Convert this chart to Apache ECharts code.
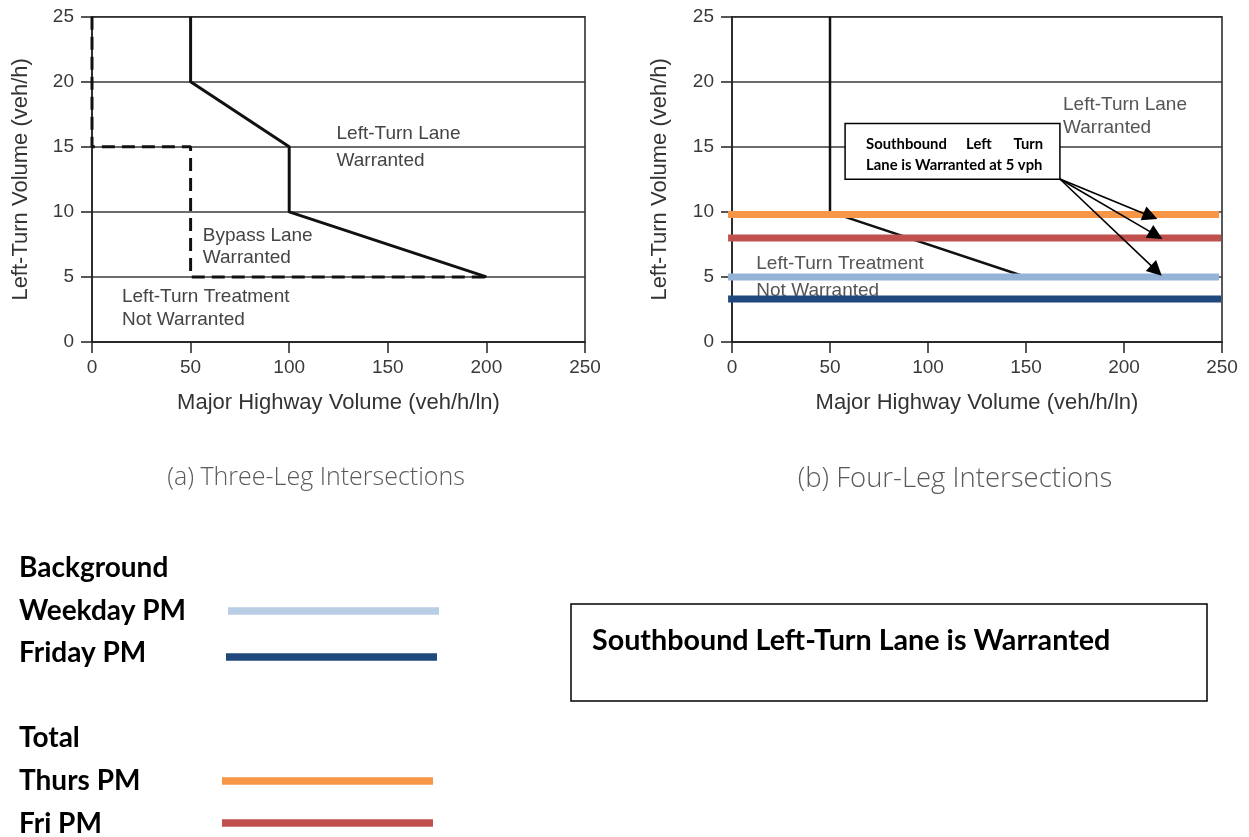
<!DOCTYPE html>
<html><head><meta charset="utf-8">
<script src="https://cdn.jsdelivr.net/npm/echarts@6/dist/echarts.min.js"></script>
<style>html,body{margin:0;padding:0;background:#fff}#c{width:1249px;height:837px}</style>
</head><body><div id="c"></div>
<script>
// ---------- data ----------
const xTickValues = [0, 50, 100, 150, 200, 250];
const yTickValues = [0, 5, 10, 15, 20, 25];
// Three-leg intersections: left-turn lane warrant boundary (solid) and bypass lane boundary (dashed)
const threeLegLaneBoundary = [[50, 25], [50, 20], [100, 15], [100, 10], [200, 5]];
const threeLegBypassBoundary = [[0, 25], [0, 15], [50, 15], [50, 5], [200, 5]];
// Four-leg intersections: left-turn lane warrant boundary
const fourLegLaneBoundary = [[50, 25], [50, 10], [150, 5]];
// Left-turn volumes (veh/h) plotted as horizontal lines
const volumeNames = ['Thurs PM', 'Fri PM', 'Weekday PM', 'Friday PM'];
const volumeValues = [9.8, 8.0, 5.0, 3.3];
const volumeFromX = [-4, -2, -2, -2];
const volumeToX = [248.5, 249.5, 248.5, 249.5];
// callout arrows (data space)
const arrowFrom = [167.3, 12.53];
const arrowTo = [[213.5, 9.67], [216.3, 8.21], [216.5, 5.48]];

// ---------- styles ----------
const volumeColors = ['#F79646', '#C0504D', '#95B3D7', '#1F497D'];
const AX = '#222', GRIDC = '#3a3a3a', TXT = '#3a3a3a';
const FONT = '"Liberation Sans", Arial, sans-serif';

const chart = echarts.init(document.getElementById('c'));

function xAxisFor(i) {
  return {
    gridIndex: i, type: 'value', min: 0, max: 250, interval: 50,
    splitLine: { show: false },
    axisLine: { show: true, lineStyle: { color: AX, width: 1.5 } },
    axisTick: { show: true, length: 11, lineStyle: { color: AX, width: 1.5 } },
    axisLabel: { fontSize: 19, color: TXT, fontFamily: FONT, margin: 16 },
    name: 'Major Highway Volume (veh/h/ln)', nameLocation: 'middle', nameGap: 50,
    nameTextStyle: { fontSize: 22, color: '#333', fontFamily: FONT }
  };
}
function yAxisFor(i, gap) {
  return {
    gridIndex: i, type: 'value', min: 0, max: 25, interval: 5,
    splitLine: { show: true, lineStyle: { color: GRIDC, width: 1.5 } },
    axisLine: { show: true, lineStyle: { color: AX, width: 1.5 } },
    axisTick: { show: true, length: 11, lineStyle: { color: AX, width: 1.5 } },
    axisLabel: { fontSize: 19, color: TXT, fontFamily: FONT, margin: 18 },
    name: 'Left-Turn Volume (veh/h)', nameLocation: 'middle', nameGap: gap,
    nameTextStyle: { fontSize: 22, color: '#333', fontFamily: FONT }
  };
}

const series = [
  { type: 'line', xAxisIndex: 0, yAxisIndex: 0, data: threeLegBypassBoundary, symbol: 'none',
    lineStyle: { color: '#111', width: 3, type: [13, 7] }, z: 3, silent: true },
  { type: 'line', xAxisIndex: 0, yAxisIndex: 0, data: threeLegLaneBoundary, symbol: 'none',
    lineStyle: { color: '#111', width: 3 }, z: 3, silent: true },
  { type: 'line', xAxisIndex: 1, yAxisIndex: 1, data: fourLegLaneBoundary, symbol: 'none',
    lineStyle: { color: '#111', width: 2.5 }, z: 2, silent: true }
];
volumeNames.forEach((n, i) => {
  series.push({
    type: 'line', name: n, xAxisIndex: 1, yAxisIndex: 1, clip: false, symbol: 'none', silent: true,
    data: [[volumeFromX[i], volumeValues[i]], [volumeToX[i], volumeValues[i]]],
    lineStyle: { color: volumeColors[i], width: 7 }, z: 4
  });
});
series.push({
  type: 'lines', coordinateSystem: 'cartesian2d', xAxisIndex: 1, yAxisIndex: 1, z: 6, silent: true,
  symbol: ['none', 'triangle'], symbolSize: 15,
  lineStyle: { color: '#000', width: 1.6, opacity: 1 },
  data: arrowTo.map(t => ({ coords: [arrowFrom, t] }))
});

chart.setOption({
  animation: false,
  backgroundColor: '#fff',
  grid: [
    { left: 92, top: 16.7, width: 493, height: 325.3, show: true, borderColor: AX, borderWidth: 1.5, backgroundColor: 'transparent' },
    { left: 732, top: 16.7, width: 490, height: 325.3, show: true, borderColor: AX, borderWidth: 1.5, backgroundColor: 'transparent' }
  ],
  xAxis: [xAxisFor(0), xAxisFor(1)],
  yAxis: [yAxisFor(0, 60), yAxisFor(1, 61)],
  series: series
});

// ---------- annotations ----------
const g = [];
function px(grid, pt) { return chart.convertToPixel({ gridIndex: grid }, pt); }
function txt(text, x, y, font, fill, align, z) {
  g.push({ type: 'text', z: z || 0, style: { text: text, x: x, y: y, font: font, fill: fill,
    align: align || 'left', verticalAlign: 'middle' } });
}
const inFont = '19px ' + FONT;
[
  ['Left-Turn Lane', 0, [124, 16.0]], ['Warranted', 0, [124, 13.9]],
  ['Bypass Lane', 0, [56.2, 8.2]], ['Warranted', 0, [56.2, 6.5]],
  ['Left-Turn Treatment', 0, [15.2, 3.46]], ['Not Warranted', 0, [15.2, 1.72]],
  ['Left-Turn Lane', 1, [168.9, 18.2]], ['Warranted', 1, [168.9, 16.5]],
  ['Left-Turn Treatment', 1, [12.4, 6.03]], ['Not Warranted', 1, [12.4, 3.92]]
].forEach(a => { const p = px(a[1], a[2]); txt(a[0], p[0], p[1], inFont, a[1] ? '#555' : '#444', 'left', 1); });

// callout box in four-leg chart
const b1 = px(1, [57.7, 16.8]), b2 = px(1, [167.3, 12.5]);
g.push({ type: 'rect', z: 10, shape: { x: b1[0], y: b1[1], width: b2[0] - b1[0], height: b2[1] - b1[1] },
  style: { fill: '#fff', stroke: '#000', lineWidth: 1.5 } });
const cf = 'bold 14.8px Lato, sans-serif';
txt('Southbound', b1[0] + 21, b1[1] + 21, cf, '#000', 'left', 11);
txt('Left', b1[0] + 121, b1[1] + 21, cf, '#000', 'left', 11);
txt('Turn', b1[0] + 198, b1[1] + 21, cf, '#000', 'right', 11);
txt('Lane is Warranted at 5 vph', b1[0] + 21, b1[1] + 41.4, cf, '#000', 'left', 11);

// captions
txt('(a) Three-Leg Intersections', 316, 478, '300 25px "Open Sans", sans-serif', '#5a5a5a', 'center');
txt('(b) Four-Leg Intersections', 955, 479, '300 27.5px "Open Sans", sans-serif', '#5a5a5a', 'center');

// legend
const lf = 'bold 28px Lato, sans-serif';
txt('Background', 19, 567.5, lf, '#000');
txt('Weekday PM', 19, 611, lf, '#000');
txt('Friday PM', 19, 653, lf, '#000');
txt('Total', 19, 738, lf, '#000');
txt('Thurs PM', 19, 781, lf, '#000');
txt('Fri PM', 19, 824, lf, '#000');
function seg(x1, x2, y, c) {
  g.push({ type: 'line', shape: { x1: x1, y1: y, x2: x2, y2: y }, style: { stroke: c, lineWidth: 7.5 } });
}
seg(228, 439, 611, '#B9CDE5');
seg(226, 437, 657, '#1F497D');
seg(222, 433, 781, '#F79646');
seg(222, 433, 823, '#C0504D');

// result box
g.push({ type: 'rect', shape: { x: 571, y: 604, width: 636, height: 97 },
  style: { fill: 'none', stroke: '#000', lineWidth: 1.5 } });
txt('Southbound Left-Turn Lane is Warranted', 592, 641, 'bold 28.7px Lato, sans-serif', '#000');

chart.setOption({ graphic: { elements: g } });
</script>
</body></html>
